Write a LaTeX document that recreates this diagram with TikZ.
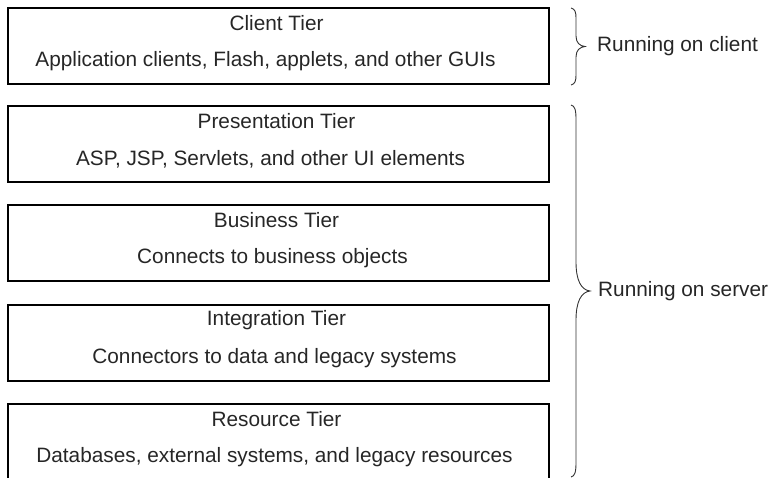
\documentclass[tikz,border=0pt]{standalone}
\usepackage{fontspec}
\setmainfont{Liberation Sans}
\usetikzlibrary{calc}

\begin{document}
\begin{tikzpicture}[x=1pt,y=-1pt,
  tier/.style={draw=black, line width=2pt, minimum width=541pt, minimum height=76pt,
    inner sep=0pt, anchor=north west},
  tiername/.style={font=\fontsize{20.8}{24}\selectfont, text=black!85, inner sep=0pt},
  tierdesc/.style={font=\fontsize{20.8}{24}\selectfont, text=black!85, inner sep=0pt},
  side/.style={font=\fontsize{20.8}{24}\selectfont, text=black!85, inner sep=0pt, anchor=west},
  bracket/.style={draw=black!80, line width=0.9pt}
]
\useasboundingbox (0,0) rectangle (778,477);
\clip (0,0) rectangle (778,477);

% the five tiers, top to bottom
\node[tier] (client)       at (7,7)   {};
\node[tier] (presentation) at (7,105) {};
\node[tier] (business)     at (7,204) {};
\node[tier] (integration)  at (7,304) {};
\node[tier] (resource)     at (7,403) {};

% tier name and description; the last field nudges the description sideways
\foreach \t/\name/\desc/\dx in {
  client/Client Tier/{Application clients, Flash, applets, and other GUIs}/-13,
  presentation/Presentation Tier/{ASP, JSP, Servlets, and other UI elements}/-8,
  business/Business Tier/{Connects to business objects}/-6,
  integration/Integration Tier/{Connectors to data and legacy systems}/-4,
  resource/Resource Tier/{Databases, external systems, and legacy resources}/-4} {
  \node[tiername] (\t-name) at ($(\t.north)+(-2,16)$) {\name};
  \node[tierdesc] (\t-desc) at ($(\t.north)+(\dx,54)$) {\desc};
}

% brace grouping the client tier
\coordinate (cbtop) at (571,8);
\coordinate (cbtip) at (585,46.5);
\coordinate (cbbot) at (571,85);
\draw[bracket] (cbtop) .. controls (575,9) and (576,12) .. (576,18) -- (576,36)
  .. controls (576,43) and (580,46) .. (cbtip)
  .. controls (580,47) and (576,50) .. (576,57) -- (576,75)
  .. controls (576,81) and (575,84) .. (cbbot);
\node[side] (clientlabel) at (597,46) {Running on client};

% brace grouping the server tiers
\coordinate (sbtop) at (571,105);
\coordinate (sbtip) at (590,291);
\coordinate (sbbot) at (571,477);
\draw[bracket] (sbtop) .. controls (575,106) and (576,110) .. (576,120) -- (576,262)
  .. controls (576,280) and (581,290) .. (sbtip)
  .. controls (581,292) and (576,302) .. (576,320) -- (576,462)
  .. controls (576,472) and (575,476) .. (sbbot);
\node[side] (serverlabel) at (598,291) {Running on server};
\end{tikzpicture}
\end{document}
